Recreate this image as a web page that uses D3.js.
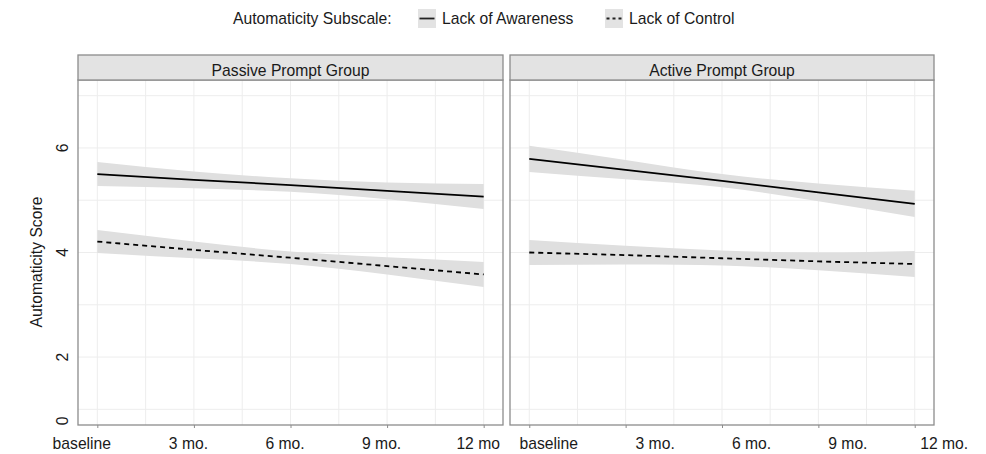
<!DOCTYPE html>
<html>
<head>
<meta charset="utf-8">
<script src="https://cdn.jsdelivr.net/npm/d3@7"></script>
<style>
  body { margin: 0; background: #fff; }
  svg text { font-family: "Liberation Sans", Arial, sans-serif; fill: #1a1a1a; }
</style>
</head>
<body>
<div id="canvas"></div>
<script>
// data
const months = [0, 3, 6, 9, 12];
const xLabelsPassive = ["baseline", "3 mo.", "6 mo.", "9 mo.", "12 mo"];
const xLabelsActive = ["baseline", "3 mo.", "6 mo.", "9 mo.", "12 mo."];
const yTickValues = [0.78, 2, 4, 6];
const yTickLabels = ["0", "2", "4", "6"];
const panelNames = ["Passive Prompt Group", "Active Prompt Group"];
const subscales = ["Lack of Awareness", "Lack of Control"];

const passiveAwareness = [5.50, 5.39, 5.29, 5.18, 5.07];
const passiveAwarenessLo = [5.27, 5.23, 5.16, 5.02, 4.83];
const passiveAwarenessHi = [5.73, 5.55, 5.42, 5.34, 5.31];
const passiveControl = [4.21, 4.05, 3.90, 3.74, 3.58];
const passiveControlLo = [3.99, 3.89, 3.78, 3.58, 3.34];
const passiveControlHi = [4.43, 4.21, 4.02, 3.91, 3.82];

const activeAwareness = [5.79, 5.58, 5.37, 5.15, 4.93];
const activeAwarenessLo = [5.54, 5.40, 5.25, 4.98, 4.68];
const activeAwarenessHi = [6.04, 5.77, 5.50, 5.32, 5.18];
const activeControl = [4.00, 3.95, 3.89, 3.83, 3.78];
const activeControlLo = [3.76, 3.77, 3.75, 3.66, 3.53];
const activeControlHi = [4.24, 4.13, 4.04, 4.00, 4.03];

const panels = [
  { name: panelNames[0], labels: xLabelsPassive, left: 78, right: 503, labelShift: -6,
    series: [
      { key: subscales[0], fit: passiveAwareness, lo: passiveAwarenessLo, hi: passiveAwarenessHi },
      { key: subscales[1], fit: passiveControl, lo: passiveControlLo, hi: passiveControlHi }
    ] },
  { name: panelNames[1], labels: xLabelsActive, left: 510, right: 934, labelShift: 29,
    series: [
      { key: subscales[0], fit: activeAwareness, lo: activeAwarenessLo, hi: activeAwarenessHi },
      { key: subscales[1], fit: activeControl, lo: activeControlLo, hi: activeControlHi }
    ] }
];

const width = 986, height = 454;
const panelTop = 80, panelBottom = 425, stripTop = 55;
const fontSize = 15.7;
const dash = { "Lack of Awareness": null, "Lack of Control": "5,4" };

const svg = d3.select("#canvas").append("svg")
  .attr("width", width)
  .attr("height", height);

const y = d3.scaleLinear().domain([0.7, 7.3]).range([panelBottom, panelTop]);

panels.forEach(p => {
  const x = d3.scaleLinear().domain([-0.6, 12.6]).range([p.left, p.right]);
  const g = svg.append("g");

  // grid
  const minorX = d3.range(1.5, 12, 3);
  g.selectAll(".gx").data(months.concat(minorX)).enter().append("line")
    .attr("x1", d => x(d)).attr("x2", d => x(d))
    .attr("y1", panelTop).attr("y2", panelBottom)
    .attr("stroke", "#ededed").attr("stroke-width", 1);
  g.selectAll(".gy").data(d3.range(1, 8)).enter().append("line")
    .attr("x1", p.left).attr("x2", p.right)
    .attr("y1", d => y(d)).attr("y2", d => y(d))
    .attr("stroke", "#ededed").attr("stroke-width", 1);

  // ribbons and lines
  p.series.forEach(s => {
    const pts = months.map((m, i) => ({ m, fit: s.fit[i], lo: s.lo[i], hi: s.hi[i] }));
    g.append("path").datum(pts)
      .attr("fill", "#dfdfdf")
      .attr("d", d3.area().curve(d3.curveNatural)
        .x(d => x(d.m)).y0(d => y(d.lo)).y1(d => y(d.hi)));
    g.append("path").datum(pts)
      .attr("fill", "none")
      .attr("stroke", "#000")
      .attr("stroke-width", 1.8)
      .attr("stroke-dasharray", dash[s.key])
      .attr("d", d3.line().x(d => x(d.m)).y(d => y(d.fit)));
  });

  // panel border
  g.append("rect")
    .attr("x", p.left).attr("y", panelTop)
    .attr("width", p.right - p.left).attr("height", panelBottom - panelTop)
    .attr("fill", "none").attr("stroke", "#8c8c8c").attr("stroke-width", 1.3);

  // strip
  g.append("rect")
    .attr("x", p.left).attr("y", stripTop)
    .attr("width", p.right - p.left).attr("height", panelTop - stripTop)
    .attr("fill", "#e3e3e3").attr("stroke", "#8c8c8c").attr("stroke-width", 1.3);
  g.append("text")
    .attr("x", (p.left + p.right) / 2).attr("y", 76)
    .attr("text-anchor", "middle")
    .style("font-size", fontSize + "px")
    .text(p.name);

  // x axis
  const ax = g.append("g")
    .attr("transform", `translate(0,${panelBottom})`)
    .call(d3.axisBottom(x).tickValues(months).tickSize(3).tickFormat((d, i) => p.labels[i]));
  ax.select(".domain").remove();
  ax.selectAll(".tick line").attr("stroke", "#8c8c8c");
  ax.selectAll(".tick text")
    .attr("y", 24)
    .attr("dy", 0)
    .attr("dx", (d, i) => p.labelShift + (i === 0 ? -10 : 0))
    .style("font-size", fontSize + "px")
    .style("font-family", "Liberation Sans, Arial, sans-serif")
    .attr("fill", "#1a1a1a");
});

// y axis labels
svg.selectAll(".ylab").data(yTickValues).enter().append("text")
  .attr("transform", d => `translate(68,${y(d)}) rotate(-90)`)
  .attr("text-anchor", "middle")
  .style("font-size", fontSize + "px")
  .text((d, i) => yTickLabels[i]);

svg.append("text")
  .attr("transform", "translate(42,262) rotate(-90)")
  .attr("text-anchor", "middle")
  .style("font-size", fontSize + "px")
  .text("Automaticity Score");

// legend
const legend = svg.append("g");
legend.append("text")
  .attr("x", 233).attr("y", 24)
  .style("font-size", fontSize + "px")
  .text("Automaticity Subscale:");
const keyX = [418, 605];
subscales.forEach((s, i) => {
  legend.append("rect")
    .attr("x", keyX[i]).attr("y", 9)
    .attr("width", 18).attr("height", 19)
    .attr("fill", "#e3e3e3");
  legend.append("line")
    .attr("x1", keyX[i] + 1.5).attr("x2", keyX[i] + 16.5)
    .attr("y1", 18.5).attr("y2", 18.5)
    .attr("stroke", "#222").attr("stroke-width", 1.8)
    .attr("stroke-dasharray", dash[s] ? "3,3" : null);
  legend.append("text")
    .attr("x", keyX[i] + 24).attr("y", 24)
    .style("font-size", fontSize + "px")
    .text(s);
});
</script>
</body>
</html>
